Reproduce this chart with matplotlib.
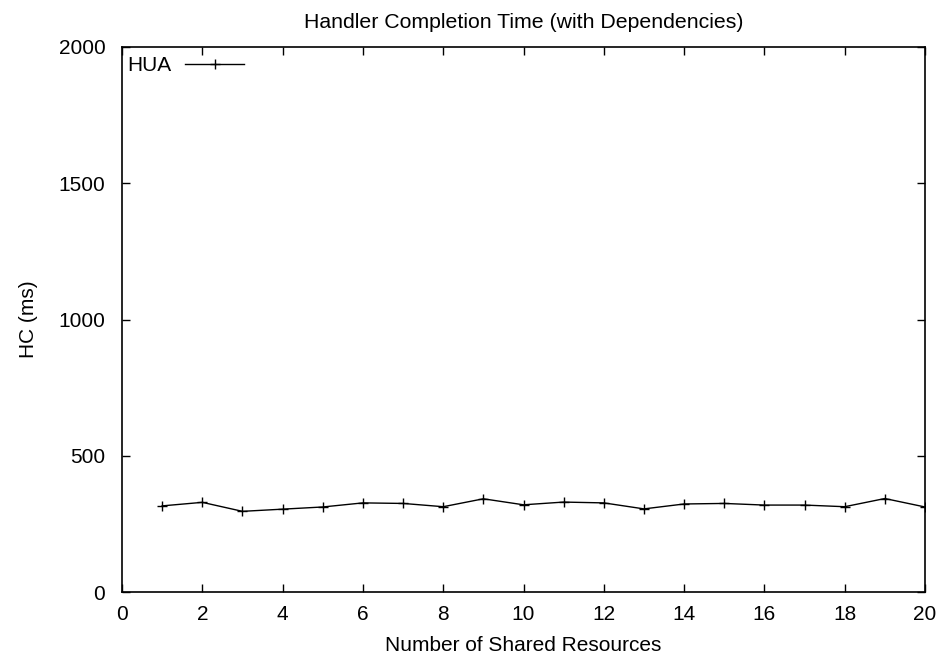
import matplotlib
matplotlib.use("Agg")
import matplotlib.pyplot as plt

plt.rcParams['font.family'] = ['Liberation Sans', 'DejaVu Sans']

# handler completion time per number of shared resources
resources = [1, 2, 3, 4, 5, 6, 7, 8, 9, 10, 11, 12, 13, 14, 15, 16, 17, 18, 19, 20]
hc_hua = [316, 329, 296, 304, 312, 327, 325, 313, 342, 320,
          330, 327, 305, 323, 325, 319, 319, 313, 343, 312]

xticks = list(range(0, 21, 2))
yticks = [0, 500, 1000, 1500, 2000]

fig = plt.figure(figsize=(9.41, 6.59), dpi=100)
ax = fig.add_axes([122/941, 1 - 592/659, (925-122)/941, (592-47)/659])

ax.plot(resources, hc_hua, color="black", linewidth=1.0, marker="+",
        markersize=7, markeredgewidth=1.0, label="HUA")

ax.set_xlim(0, 20)
ax.set_ylim(0, 2000)
ax.set_xticks(xticks)
ax.set_yticks(yticks)
ax.tick_params(direction="in", top=True, right=True, length=6, width=1,
               labelsize=15)
ax.tick_params(axis="x", pad=9)
ax.tick_params(axis="y", pad=12)
for sp in ax.spines.values():
    sp.set_linewidth(1.2)

ax.set_title("Handler Completion Time (with Dependencies)", fontsize=15.3, pad=14)
ax.set_xlabel("Number of Shared Resources", fontsize=15, labelpad=9)
ax.set_ylabel("HC (ms)", fontsize=15, labelpad=15)

ax.legend(loc="upper left", bbox_to_anchor=(0.0, 0.9927), frameon=False,
          fontsize=15, markerfirst=False, handlelength=2.85, borderpad=0.15,
          borderaxespad=0.1, handletextpad=0.65)

fig.savefig("out.png", dpi=100)
